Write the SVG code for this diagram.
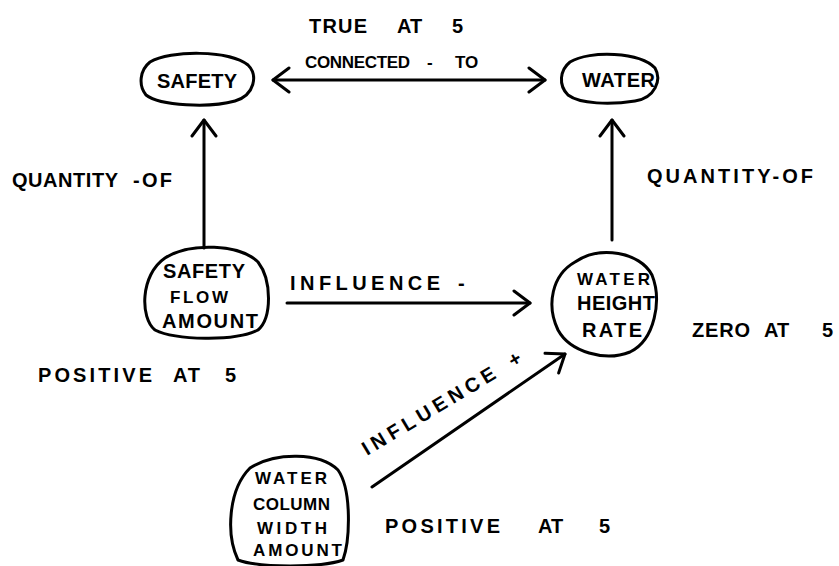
<svg xmlns="http://www.w3.org/2000/svg" width="839" height="566" viewBox="0 0 839 566">
  <style>
    .outline { fill: none; stroke: #000; stroke-width: 3; stroke-linecap: round; stroke-linejoin: round; }
    .edge { fill: none; stroke: #000; stroke-width: 3; stroke-linecap: round; }
    text { font-family: "Liberation Sans", "DejaVu Sans", sans-serif; font-weight: bold; font-size: 20px; fill: #000; }
    .small { font-size: 17px; }
  </style>
  <defs>
    <marker id="chevron" viewBox="0 0 20 28" markerWidth="20" markerHeight="28" refX="18" refY="14" orient="auto-start-reverse" markerUnits="userSpaceOnUse">
      <path d="M2 2 L18 14 L2 26" fill="none" stroke="#000" stroke-width="3" stroke-linecap="round" stroke-linejoin="round"/>
    </marker>
  </defs>
  <rect width="839" height="566" fill="#fff"/>

  <!-- connectors -->
  <g id="connectors">
    <path class="edge" d="M273 80 L545 80" marker-start="url(#chevron)" marker-end="url(#chevron)"/>
    <text y="33"><tspan x="309" textLength="58" lengthAdjust="spacing">TRUE</tspan><tspan x="397">AT</tspan><tspan x="452">5</tspan></text>
    <text class="small" y="68"><tspan x="305" textLength="105" lengthAdjust="spacing">CONNECTED</tspan><tspan x="427">-</tspan><tspan x="455">TO</tspan></text>

    <path class="edge" d="M204 248 L204 120" marker-end="url(#chevron)"/>
    <text y="187"><tspan x="12" textLength="106" lengthAdjust="spacing">QUANTITY</tspan><tspan x="133" textLength="39" lengthAdjust="spacing">-OF</tspan></text>

    <path class="edge" d="M612 240 L612 120" marker-end="url(#chevron)"/>
    <text x="647" y="183" textLength="166" lengthAdjust="spacing">QUANTITY-OF</text>

    <path class="edge" d="M287 303 L530 303" marker-end="url(#chevron)"/>
    <text y="290"><tspan x="290" textLength="150" lengthAdjust="spacing">INFLUENCE</tspan><tspan x="458">-</tspan></text>

    <path class="edge" d="M372 487 L565 354" marker-end="url(#chevron)"/>
    <text transform="translate(367 456) rotate(-31)" x="0" y="0"><tspan textLength="152" lengthAdjust="spacing">INFLUENCE</tspan><tspan dx="14">+</tspan></text>
  </g>

  <!-- nodes -->
  <g id="safety">
    <path class="outline" d="M150 62 C170 50, 230 50, 248 65 C258 75, 255 95, 235 101 C210 108, 160 106, 146 95 C138 85, 140 70, 150 62 Z"/>
    <text x="157" y="88" textLength="80" lengthAdjust="spacing">SAFETY</text>
  </g>

  <g id="water">
    <path class="outline" d="M570 62 C590 50, 640 52, 655 68 C662 80, 655 98, 635 101 C610 105, 580 104, 568 95 C558 85, 560 70, 570 62 Z"/>
    <text x="582" y="87" textLength="73" lengthAdjust="spacing">WATER</text>
  </g>

  <g id="safety-flow-amount">
    <path class="outline" d="M165 258 C190 242, 240 244, 258 262 C272 280, 272 318, 258 330 C235 342, 175 340, 155 330 C140 318, 140 275, 165 258 Z"/>
    <text x="163" y="278" textLength="82" lengthAdjust="spacing">SAFETY</text>
    <text class="small" x="170" y="303" textLength="58" lengthAdjust="spacing">FLOW</text>
    <text x="162" y="328" textLength="96" lengthAdjust="spacing">AMOUNT</text>
    <text y="382"><tspan x="38" textLength="114" lengthAdjust="spacing">POSITIVE</tspan><tspan x="173" textLength="27" lengthAdjust="spacing">AT</tspan><tspan x="225">5</tspan></text>
  </g>

  <g id="water-height-rate">
    <path class="outline" d="M575 262 C600 245, 640 252, 652 275 C662 300, 655 340, 630 352 C605 362, 570 352, 558 330 C546 305, 552 275, 575 262 Z"/>
    <text class="small" x="577" y="285" textLength="73" lengthAdjust="spacing">WATER</text>
    <text x="577" y="310" textLength="78" lengthAdjust="spacing">HEIGHT</text>
    <text x="582" y="337" textLength="60" lengthAdjust="spacing">RATE</text>
    <text y="337"><tspan x="692" textLength="58" lengthAdjust="spacing">ZERO</tspan><tspan x="764">AT</tspan><tspan x="822">5</tspan></text>
  </g>

  <g id="water-column-width-amount">
    <path class="outline" d="M250 468 C275 452, 320 452, 338 470 C352 490, 350 540, 343 560 C320 568, 260 568, 238 560 C226 535, 228 490, 250 468 Z"/>
    <text class="small" x="255" y="484" textLength="72" lengthAdjust="spacing">WATER</text>
    <text class="small" x="253" y="510" textLength="77" lengthAdjust="spacing">COLUMN</text>
    <text class="small" x="257" y="534" textLength="70" lengthAdjust="spacing">WIDTH</text>
    <text class="small" x="253" y="556" textLength="89" lengthAdjust="spacing">AMOUNT</text>
    <text y="533"><tspan x="385" textLength="115" lengthAdjust="spacing">POSITIVE</tspan><tspan x="538">AT</tspan><tspan x="599">5</tspan></text>
  </g>
</svg>
